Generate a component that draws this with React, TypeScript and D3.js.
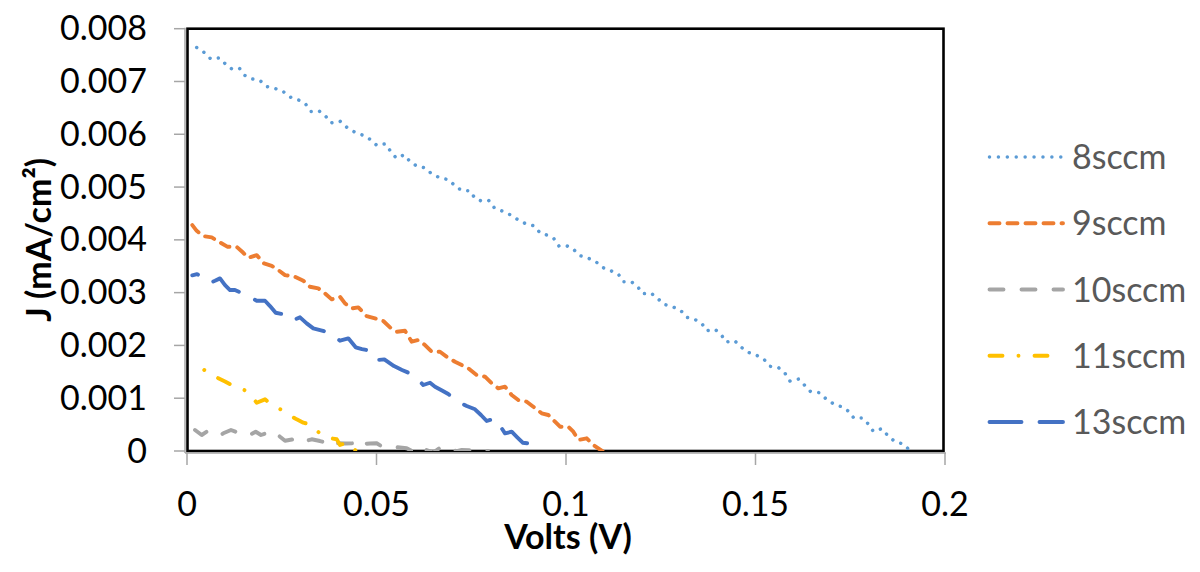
import React from "react";
import * as d3 from "d3";

const xTickValues = [0, 0.05, 0.1, 0.15, 0.2];
const xTickLabels = ["0", "0.05", "0.1", "0.15", "0.2"];
const yTickValues = [0, 0.001, 0.002, 0.003, 0.004, 0.005, 0.006, 0.007, 0.008];
const yTickLabels = ["0", "0.001", "0.002", "0.003", "0.004", "0.005", "0.006", "0.007", "0.008"];

const seriesNames = ["8sccm", "9sccm", "10sccm", "11sccm", "13sccm"];

const s8: [number, number][] = [
  [0.00256, 0.007644], [0.00456, 0.007549], [0.00625, 0.007428], [0.00852, 0.007447], [0.01011, 0.007334],
  [0.01179, 0.007239], [0.0138, 0.007252], [0.0153, 0.007114], [0.01715, 0.007049], [0.01926, 0.007019],
  [0.02103, 0.006905], [0.02322, 0.006868], [0.02551, 0.006803], [0.02744, 0.006697], [0.02955, 0.006646],
  [0.03132, 0.00657], [0.03272, 0.006432], [0.03483, 0.006444], [0.03649, 0.006349], [0.03799, 0.006216],
  [0.04037, 0.006249], [0.04214, 0.006135], [0.04414, 0.006046], [0.04636, 0.005983], [0.04836, 0.005902],
  [0.05013, 0.005788], [0.05232, 0.005819], [0.05375, 0.005675], [0.05522, 0.005548], [0.05734, 0.005611],
  [0.05892, 0.005478], [0.06069, 0.005396], [0.0628, 0.005364], [0.06456, 0.005251], [0.06675, 0.005175],
  [0.06913, 0.005137], [0.07079, 0.005018], [0.07248, 0.004936], [0.07467, 0.004929], [0.07599, 0.004785],
  [0.07776, 0.004734], [0.0796, 0.004747], [0.08108, 0.004607], [0.08319, 0.004544], [0.0853, 0.004474],
  [0.08734, 0.00438], [0.08937, 0.004304], [0.09156, 0.004266], [0.09314, 0.004134], [0.09499, 0.00409],
  [0.09675, 0.004027], [0.09815, 0.003882], [0.10018, 0.003888], [0.10193, 0.003825], [0.10351, 0.003706],
  [0.1058, 0.003654], [0.10792, 0.003584], [0.10984, 0.003471], [0.11187, 0.003414], [0.1138, 0.003351],
  [0.11512, 0.003206], [0.11723, 0.003206], [0.11881, 0.003124], [0.12024, 0.002979], [0.12243, 0.002992],
  [0.12409, 0.002897], [0.12586, 0.002778], [0.12815, 0.002732], [0.13026, 0.002664], [0.13185, 0.002532],
  [0.13396, 0.002494], [0.1358, 0.002418], [0.13712, 0.002278], [0.13931, 0.002304], [0.1409, 0.00221],
  [0.14222, 0.002064], [0.14451, 0.002089], [0.14617, 0.001969], [0.1481, 0.001869], [0.15032, 0.001812],
  [0.15232, 0.001729], [0.15391, 0.001604], [0.15612, 0.001577], [0.15786, 0.001464], [0.1591, 0.001325],
  [0.1614, 0.001363], [0.16298, 0.001244], [0.16446, 0.00113], [0.16683, 0.001104], [0.1686, 0.00099],
  [0.17053, 0.000896], [0.17264, 0.000839], [0.17459, 0.000752], [0.17599, 0.000619], [0.17818, 0.000625],
  [0.17968, 0.000517], [0.18108, 0.000373], [0.1833, 0.000422], [0.18496, 0.00029], [0.18662, 0.000189],
  [0.18884, 0.000133], [0.19058, 0.000025], [0.1915, -0.00004],
];

const s9: [number, number][] = [
  [0.0014, 0.004279], [0.00256, 0.004171], [0.0043, 0.004071], [0.00652, 0.004046], [0.00871, 0.003952],
  [0.01074, 0.003868], [0.01311, 0.003868], [0.01485, 0.003755], [0.01617, 0.00366], [0.01839, 0.003711],
  [0.02032, 0.003554], [0.02235, 0.003509], [0.02409, 0.003427], [0.02586, 0.003333], [0.0285, 0.0033],
  [0.03069, 0.003225], [0.03245, 0.003111], [0.03464, 0.003081], [0.03641, 0.002986], [0.03818, 0.002872],
  [0.04037, 0.002922], [0.04169, 0.002797], [0.04346, 0.002702], [0.0452, 0.002721], [0.04741, 0.002556],
  [0.0496, 0.002513], [0.0518, 0.002462], [0.05356, 0.002342], [0.05533, 0.002259], [0.05752, 0.002278],
  [0.05929, 0.00207], [0.06103, 0.002102], [0.0628, 0.002007], [0.06456, 0.00188], [0.06675, 0.00188],
  [0.06852, 0.001786], [0.07071, 0.001691], [0.07248, 0.001628], [0.07422, 0.001566], [0.07644, 0.001439],
  [0.07863, 0.001407], [0.0804, 0.001282], [0.08214, 0.001187], [0.08391, 0.001218], [0.08567, 0.00106],
  [0.08741, 0.000966], [0.08963, 0.000934], [0.09137, 0.000839], [0.09359, 0.000714], [0.09533, 0.000682],
  [0.0971, 0.000555], [0.09842, 0.00046], [0.10061, 0.00046], [0.10193, 0.000365], [0.10325, 0.000208],
  [0.10546, 0.00024], [0.1072, 0.000114], [0.10942, 0.000006], [0.1112, -0.00004],
];

const s10: [number, number][] = [
  [0.00211, 0.000398], [0.00388, 0.000303], [0.0052, 0.000365], [0.0066, 0.000322], [0.00826, 0.000271],
  [0.00958, 0.000335], [0.01161, 0.000398], [0.01372, 0.000341], [0.01602, 0.000284], [0.01813, 0.000365],
  [0.01953, 0.000303], [0.02111, 0.000341], [0.02277, 0.000384], [0.02454, 0.000271], [0.02586, 0.000195],
  [0.0277, 0.000218], [0.02937, 0.00024], [0.03069, 0.000176], [0.0329, 0.000222], [0.03509, 0.000189],
  [0.03728, 0.000146], [0.0386, 0.000208], [0.03976, 0.000146], [0.04169, 0.000142], [0.04388, 0.000146],
  [0.0452, 0.000222], [0.04652, 0.000133], [0.04828, 0.000142], [0.05005, 0.000146], [0.0518, 0.00007],
  [0.05488, 0.000076], [0.05797, 0.000051], [0.05971, -0.000013], [0.06103, 0.00007], [0.0628, 0.000028],
  [0.06499, -0.00003], [0.0672, 0.000085], [0.06939, 0.000038], [0.07116, -0.000004], [0.07248, 0.000019],
  [0.07599, 0.000009], [0.07942, 0],
];

const s11: [number, number][] = [
  [0.00456, 0.001534], [0.00633, 0.001458], [0.00826, 0.001377], [0.01003, 0.001316], [0.01179, 0.00125],
  [0.01372, 0.001193], [0.01557, 0.001142], [0.01715, 0.001022], [0.01839, 0.000915], [0.02058, 0.000979],
  [0.02164, 0.000915], [0.02322, 0.000843], [0.02499, 0.000776], [0.02691, 0.000682], [0.02894, 0.0006],
  [0.03069, 0.000536], [0.03219, 0.000511], [0.03377, 0.000417], [0.03554, 0.000303], [0.03773, 0.000246],
  [0.0395, 0.000222], [0.04037, 0.000114], [0.04214, 0.000157], [0.04354, 0.000057], [0.0452, -0.00002],
];

const s13: [number, number][] = [
  [0.0014, 0.003327], [0.00264, 0.003351], [0.00422, 0.003276], [0.00607, 0.003187], [0.00739, 0.003225],
  [0.00871, 0.00327], [0.01003, 0.003143], [0.01135, 0.003049], [0.01266, 0.003049], [0.01451, 0.002992],
  [0.01662, 0.00291], [0.01839, 0.002846], [0.02058, 0.002846], [0.0219, 0.002746], [0.0234, 0.002619],
  [0.02507, 0.002594], [0.02691, 0.002575], [0.02805, 0.00248], [0.02982, 0.002532], [0.03158, 0.002418],
  [0.03332, 0.002323], [0.03562, 0.002282], [0.03792, 0.002229], [0.04037, 0.002089], [0.04256, 0.002134],
  [0.04451, 0.001964], [0.04617, 0.001931], [0.04828, 0.001899], [0.05005, 0.001723], [0.05206, 0.001736],
  [0.05462, 0.001609], [0.05673, 0.001534], [0.05884, 0.001471], [0.06061, 0.001377], [0.06235, 0.00125],
  [0.06412, 0.001293], [0.06544, 0.001218], [0.06728, 0.001146], [0.06894, 0.001079], [0.07158, 0.000934],
  [0.0738, 0.000852], [0.07599, 0.00079], [0.07757, 0.000682], [0.07908, 0.000568], [0.08127, 0.000619],
  [0.08391, 0.000335], [0.08567, 0.000365], [0.08707, 0.000265], [0.08858, 0.000157], [0.09137, 0.000133],
  [0.09269, 0.000006], [0.0934, -0.00004],
];

const seriesData = [s8, s9, s10, s11, s13];

const styles = [
  { color: "#5B9BD5", width: 3.5, dash: "0.01 8.6", offset: 0, legendDash: "0.01 8.9" },
  { color: "#ED7D31", width: 3.9, dash: "9.5 8", offset: 0, legendDash: "10 8" },
  { color: "#A5A5A5", width: 3.9, dash: "14 18", offset: 0, legendDash: "14 18" },
  { color: "#FFC000", width: 3.9, dash: "0.01 16 13 16", offset: 0, legendDash: "13 16 0.01 16" },
  { color: "#4472C4", width: 3.9, dash: "32 18", offset: 26, legendDash: "32 18" },
];

const FONT = "Lato, 'Noto Sans', sans-serif";

export default function App() {
  const L = 187, R = 945, T = 28.7, B = 451;
  const x = d3.scaleLinear().domain([0, 0.2]).range([L, R]);
  const y = d3.scaleLinear().domain([0, 0.008]).range([B, T]);
  const line = d3
    .line<[number, number]>()
    .x((d) => x(d[0]))
    .y((d) => y(d[1]));

  const legendY0 = 157;
  const legendStep = 66.25;

  return (
    <svg
      width={1200}
      height={572}
      style={{ position: "absolute", left: 0, top: 0, background: "#fff" }}
      fontFamily={FONT}
    >
      <defs>
        <clipPath id="plotClip">
          <rect x={L} y={T} width={R - L} height={B - T} />
        </clipPath>
      </defs>
      <rect x={0} y={0} width={1200} height={572} fill="#fff" />

      {/* plot border */}
      <rect x={L + 0.5} y={T} width={R - L - 2} height={B - T} fill="none" stroke="#000" strokeWidth={2.6} />
      {/* gray axis lines */}
      <line x1={L - 2} x2={L - 2} y1={T - 1} y2={B + 2} stroke="#A6A6A6" strokeWidth={1.5} />
      <line x1={L - 2} x2={R + 1} y1={B + 2} y2={B + 2} stroke="#A6A6A6" strokeWidth={1.5} />

      {/* y ticks */}
      {yTickValues.map((v, i) => (
        <g key={"y" + i}>
          <line x1={174} x2={L - 2} y1={y(v)} y2={y(v)} stroke="#A6A6A6" strokeWidth={1.5} />
          <text x={147} y={y(v) + 11.5} textAnchor="end" fontSize={34} fill="#000">
            {yTickLabels[i]}
          </text>
        </g>
      ))}

      {/* x ticks */}
      {xTickValues.map((v, i) => (
        <g key={"x" + i}>
          <line x1={x(v)} x2={x(v)} y1={B + 2} y2={465} stroke="#A6A6A6" strokeWidth={1.5} />
          <text x={x(v)} y={516} textAnchor="middle" fontSize={34} fill="#000">
            {xTickLabels[i]}
          </text>
        </g>
      ))}

      {/* axis titles */}
      <text x={568} y={549} textAnchor="middle" fontSize={34} fontWeight="bold" fill="#000">
        Volts (V)
      </text>
      <text
        transform={`translate(51, ${(T + B) / 2}) rotate(-90)`}
        textAnchor="middle"
        fontSize={34}
        fontWeight="bold"
        fill="#000"
      >
        J (mA/cm²)
      </text>

      {/* series */}
      <g clipPath="url(#plotClip)">
        {seriesData.map((data, i) => (
          <path
            key={seriesNames[i]}
            d={line(data) || ""}
            fill="none"
            stroke={styles[i].color}
            strokeWidth={styles[i].width}
            strokeDasharray={styles[i].dash}
            strokeDashoffset={styles[i].offset}
            strokeLinecap="round"
            strokeLinejoin="round"
          />
        ))}
      </g>

      {/* legend */}
      {seriesNames.map((name, i) => {
        const ly = legendY0 + i * legendStep;
        return (
          <g key={"lg" + name}>
            <line
              x1={989.5}
              x2={1063}
              y1={ly}
              y2={ly}
              stroke={styles[i].color}
              strokeWidth={styles[i].width}
              strokeDasharray={styles[i].legendDash}
              strokeLinecap="round"
            />
            <text x={1072} y={ly + 12} fontSize={34} fill="#595959">
              {name}
            </text>
          </g>
        );
      })}
    </svg>
  );
}
